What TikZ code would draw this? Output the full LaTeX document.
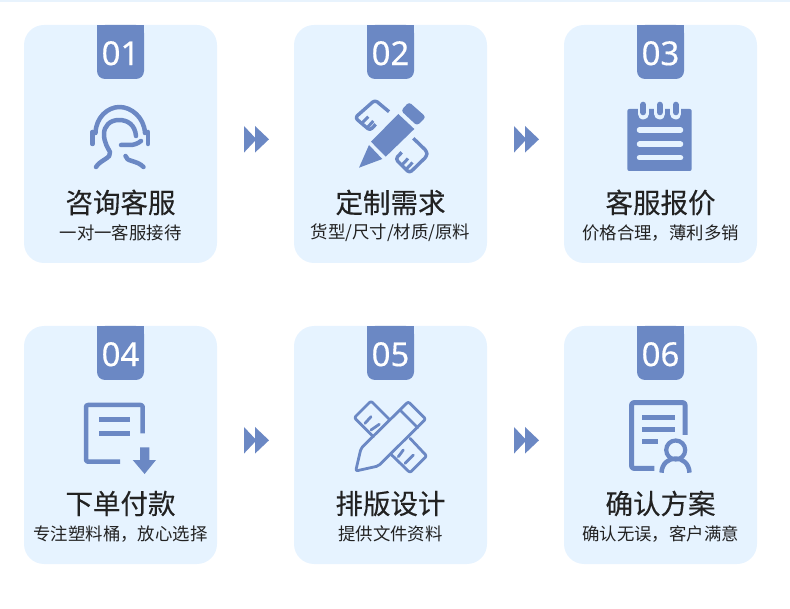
\documentclass[tikz,border=0pt]{standalone}
\usepackage{fontspec}
\setmainfont{Noto Sans CJK SC}[FakeBold=0.25]
\newfontfamily\numfont{Noto Sans}[FakeBold=0.35]
\newfontfamily\subfont{Noto Sans CJK SC}
\definecolor{cardblue}{HTML}{E6F3FF}
\definecolor{markblue}{HTML}{6B88C4}
\definecolor{topblue}{HTML}{E8F3FD}
\definecolor{titleink}{HTML}{222222}
\newcommand{\stepcard}[6]{
    \node[cardbox] (card#1) at (#2,#3) {};
    \fill[markblue,rounded corners=8pt] ([xshift=-23.5pt]card#1.north) rectangle ([xshift=23.5pt,yshift=-54pt]card#1.north);
    \fill[markblue] ([xshift=-23.5pt]card#1.north) rectangle ([xshift=23.5pt,yshift=-15pt]card#1.north);
    \node[numtext,yshift=-28.3pt] (num#1) at (card#1.north) {#4};
    \node[titletext,yshift=-177.5pt] (title#1) at (card#1.north) {#5};
    \node[subtext,yshift=-208pt] (sub#1) at (card#1.north) {#6};
}
\begin{document}
\begin{tikzpicture}[x=1pt,y=-1pt,
      cardbox/.style={fill=cardblue,rounded corners=20pt,minimum width=193pt,minimum height=238pt,inner sep=0pt,outer sep=0pt},
      numtext/.style={text=white,inner sep=0pt,font=\numfont\fontsize{33}{33}\selectfont},
      titletext/.style={text=titleink,inner sep=0pt,font=\fontsize{27.5}{30}\selectfont},
      subtext/.style={text=titleink,inner sep=0pt,font=\subfont\fontsize{17.4}{20}\selectfont},
      iconline/.style={draw=markblue,line width=4.5pt,line cap=round,line join=round},
      thinline/.style={draw=markblue,line width=2.8pt,line cap=round,line join=round},
      barline/.style={draw=markblue,line width=5pt},
      iconfill/.style={fill=markblue}]
    \useasboundingbox (0,0) rectangle (790,609);
    \fill[topblue] (0,0) rectangle (790,2);

    \stepcard{1}{120.5}{144}{01}{咨询客服}{一对一客服接待}
    \stepcard{2}{390.5}{144}{02}{定制需求}{货型/尺寸/材质/原料}
    \stepcard{3}{660.5}{144}{03}{客服报价}{价格合理，薄利多销}
    \stepcard{4}{120.5}{445}{04}{下单付款}{专注塑料桶，放心选择}
    \stepcard{5}{390.5}{445}{05}{排版设计}{提供文件资料}
    \stepcard{6}{660.5}{445}{06}{确认方案}{确认无误，客户满意}

    % arrows between cards
    \foreach \ax/\ay in {244/126,514/126,244/427,514/427} {
        \fill[iconfill] (\ax,\ay) -- ++(12.5,13.3) -- ++(-12.5,13.3) -- cycle;
        \fill[iconfill] (\ax+11,\ay) -- ++(14,13.3) -- ++(-14,13.3) -- cycle;
    }

    % headset
    \draw[iconline] (95.5,133) .. controls (96,117) and (108,107) .. (119.5,107) .. controls (131,107) and (144,117) .. (145,133);
    \draw[iconline] (92.5,132) -- (92.5,144);
    \draw[iconline] (148,132) -- (148,144);
    \draw[iconline] (136,136) .. controls (135,125) and (128,120) .. (119,120) .. controls (110,120) and (104,126) .. (104,134) .. controls (104,143) and (108,148) .. (110,152) .. controls (112,158) and (100,160) .. (96,167);
    \draw[iconline] (125.5,156) .. controls (126,162) and (137,160) .. (143.5,167);
    \draw[iconline] (121,145) -- (130,145) .. controls (134,145) and (138,143.5) .. (141,141);

    % pencil and ruler, filled
    \fill[iconfill] (359,167.7) -- (369,145) -- (382.3,159) -- cycle;
    \fill[iconfill] (371,141.7) -- (398.3,114) -- (414.3,129) -- (385.7,156.7) -- cycle;
    \fill[iconfill,rounded corners=3pt] (401,110.7) -- (409,102) -- (426,117) -- (417,125.7) -- cycle;
    \draw[thinline,line width=3.4pt,line cap=butt,rounded corners=3pt] (389,111.7) -- (375,100) -- (355,117.7) -- (370,130.5) -- (375.7,124.3);
    \draw[thinline,line width=3pt,line cap=butt] (361.7,123.3) -- (368.3,116.7);
    \draw[thinline,line width=3pt,line cap=butt] (366.7,128.3) -- (373.3,121);
    \draw[thinline,line width=3.4pt,line cap=butt,rounded corners=3pt] (413.3,138.3) -- (427,151.5) -- (427,156) -- (409.5,173) -- (395.5,159) -- (401.7,152.3);
    \draw[thinline,line width=3pt,line cap=butt] (401.5,165.5) -- (408,158.5);
    \draw[thinline,line width=3pt,line cap=butt] (406,169.5) -- (412.5,162.5);

    % notepad
    \fill[iconfill,rounded corners=2pt] (627.3,109) rectangle (691.7,171);
    \foreach \rx in {643.3,659.7,675.7} {
        \draw[draw=cardblue,line width=11pt,line cap=round] (\rx,105) -- (\rx,114);
        \draw[draw=markblue,line width=6.2pt,line cap=round] (\rx,104.8) -- (\rx,112.2);
    }
    \foreach \ry in {130,144.2,157.7} {
        \draw[draw=cardblue,line width=5.5pt,line cap=round] (639.5,\ry) -- (680.5,\ry);
    }

    % order sheet with down arrow
    \draw[iconline,line cap=butt,rounded corners=2pt] (142.7,433.3) -- (142.7,405) -- (86,405) -- (86,461.7) -- (120,461.7);
    \draw[barline] (99.3,419.7) -- (130,419.7);
    \draw[barline] (99.3,433.7) -- (130,433.7);
    \fill[iconfill] (140,447.3) -- (149.3,447.3) -- (149.3,460) -- (156,460) -- (144.6,474) -- (132.7,460) -- (140,460) -- cycle;

    % pencil and ruler, outline
    \draw[thinline,rounded corners=2pt] (390,420) -- (371,401) -- (354.3,417.7) -- (373.3,436.7);
    \draw[thinline] (365,423.3) -- (371,416.7);
    \draw[thinline] (371,430) -- (379.3,424.3);
    \draw[thinline,rounded corners=2pt] (361,448.3) -- (408.3,401.7) -- (425.7,419) -- (378.3,466) -- (355.7,471) -- cycle;
    \draw[thinline] (400,410) -- (417.7,427.7);
    \draw[thinline,rounded corners=2pt] (410,438.3) -- (426.7,456) -- (410,472.7) -- (391.7,455);
    \draw[thinline] (398.3,456.7) -- (403.3,450);
    \draw[thinline] (405,463.3) -- (413.3,455);

    % confirmed sheet with person
    \draw[iconline,line width=5pt,line cap=butt,rounded corners=2pt] (685,435) -- (685,402.7) -- (631.7,402.7) -- (631.7,468.3) -- (654.3,468.3);
    \draw[barline] (642,417.7) -- (675,417.7);
    \draw[barline] (642,429.7) -- (675,429.7);
    \draw[barline] (642,441.7) -- (658.3,441.7);
    \draw[draw=markblue,line width=4.2pt,fill=cardblue] (675.7,450) circle (9.5pt);
    \draw[iconline,line cap=butt] (661.5,472.7) .. controls (662,463) and (669,458.5) .. (675.7,458.5) .. controls (682,458.5) and (689,463) .. (689.5,472.7);
\end{tikzpicture}
\end{document}
